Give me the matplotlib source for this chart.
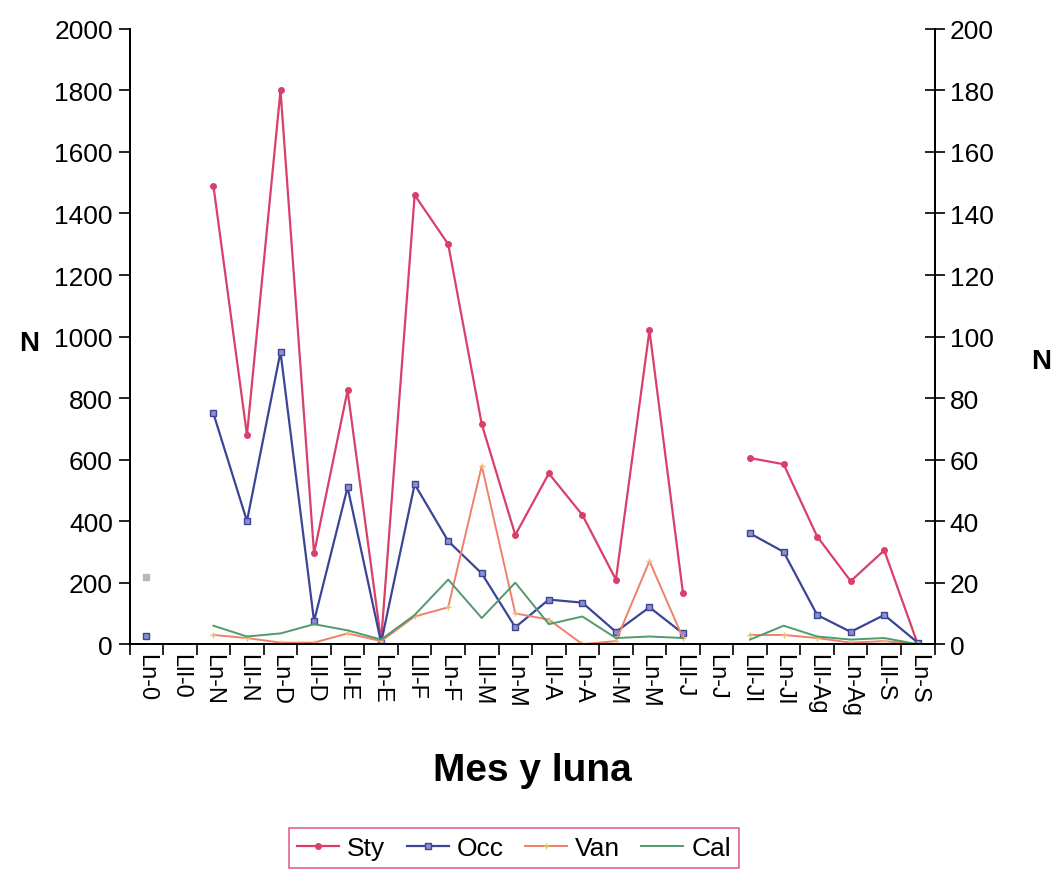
import numpy as np
import matplotlib
matplotlib.use('Agg')
import matplotlib.pyplot as plt

plt.rcParams['font.family'] = ['Liberation Sans', 'DejaVu Sans']

nan = np.nan

labels = ['Ln-0', 'Lll-0', 'Ln-N', 'Lll-N', 'Ln-D', 'Lll-D', 'Lll-E', 'Ln-E',
          'Lll-F', 'Ln-F', 'Lll-M', 'Ln-M', 'Lll-A', 'Ln-A', 'Lll-M', 'Ln-M',
          'Lll-J', 'Ln-J', 'Lll-Jl', 'Ln-Jl', 'Lll-Ag', 'Ln-Ag', 'Lll-S', 'Ln-S']

# Sty on the left axis, the others on the right axis
sty = [nan, nan, 1490, 680, 1800, 295, 825, 10, 1460, 1300, 715, 355,
       555, 420, 210, 1020, 165, nan, 605, 585, 350, 205, 305, 0]
occ = [2.5, nan, 75, 40, 95, 7.5, 51, 0.5, 52, 33.5, 23, 5.5,
       14.5, 13.5, 4, 12, 3.5, nan, 36, 30, 9.5, 4, 9.5, 0.5]
van = [22, nan, 3, 2, 0.5, 0.5, 3.5, 1, 9, 12, 58, 10,
       8, 0, 1, 27, 2, nan, 3, 3, 2, 0.5, 1, 0]
cal = [nan, nan, 6, 2.5, 3.5, 6.5, 4.5, 1.5, 9.5, 21, 8.5, 20,
       6.5, 9, 2, 2.5, 2, nan, 1.5, 6, 2.5, 1.5, 2, 0]

x = np.arange(len(labels))

fig = plt.figure(figsize=(10.62, 8.79), dpi=100)
ax = fig.add_axes([0.122, 0.266, 0.758, 0.700])
ax2 = ax.twinx()

l1, = ax.plot(x, sty, color='#d8406a', lw=1.6, marker='o', ms=4, label='Sty')
l2, = ax2.plot(x, occ, color='#3b4497', lw=1.6, marker='s', ms=4,
               mfc='#8a90c8', label='Occ')
l3, = ax2.plot(x, van, color='#f0806a', lw=1.4, marker='+', ms=5,
               mec='#e8c070', label='Van')
l4, = ax2.plot(x, cal, color='#4f9a6e', lw=1.4, label='Cal')
# isolated point at Ln-0 is drawn in pale grey
ax2.plot(x[:1], van[:1], ls='none', marker='s', ms=5, color='#b8b8b8')
l3.set_markevery(list(range(1, len(labels))))

ax.set_xlim(-0.5, len(labels) - 0.5)
ax.set_ylim(0, 2000)
ax2.set_ylim(0, 200)
ax.set_yticks(np.arange(0, 2001, 200))
ax2.set_yticks(np.arange(0, 201, 20))

ax.set_xticks(np.arange(-0.5, len(labels)), [''] * (len(labels) + 1))
ax.set_xticks(x, labels, minor=True, rotation=270, fontsize=17)
ax.tick_params(axis='x', which='major', direction='out', length=8, width=1.2)
ax.tick_params(axis='x', which='minor', length=0, pad=6)
ax.tick_params(axis='y', direction='out', length=8, width=1.2, labelsize=19, pad=4)
ax2.tick_params(axis='y', direction='inout', length=14, width=1.2, labelsize=19, pad=4)

for a in (ax, ax2):
    a.spines['top'].set_visible(False)
    for s in ('left', 'right', 'bottom'):
        a.spines[s].set_linewidth(1.3)

ax.set_ylabel('N', rotation=0, fontsize=20, fontweight='bold', va='center', ha='left')
ax.yaxis.set_label_coords(-0.137, 0.49)
ax2.set_ylabel('N', rotation=0, fontsize=20, fontweight='bold', va='center', ha='left')
ax2.yaxis.set_label_coords(1.12, 0.46)
ax.set_xlabel('Mes y luna', fontsize=28, fontweight='bold', labelpad=26)

leg = fig.legend(handles=[l1, l2, l3, l4], loc='center', bbox_to_anchor=(0.484, 0.034),
                 ncol=4, fontsize=19, frameon=True, fancybox=False, handlelength=1.6,
                 handletextpad=0.3, columnspacing=0.8, borderpad=0.3)
leg.get_frame().set_edgecolor('#d8406a')
leg.get_frame().set_linewidth(1.2)

fig.savefig('out.png', dpi=100, facecolor='white')
